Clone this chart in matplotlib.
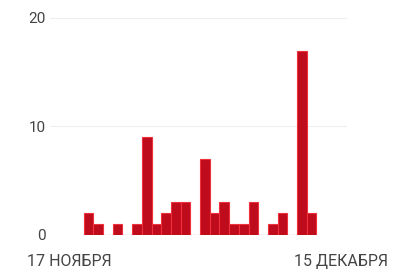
import pandas as pd
import matplotlib
matplotlib.use("Agg")
import matplotlib.pyplot as plt
import matplotlib.dates as mdates

# daily counts, 19 Nov .. 12 Dec
dates = pd.date_range("2020-11-19", "2020-12-12", freq="D")
counts = [2, 1, 0, 1, 0, 1, 9, 1, 2, 3, 3, 0, 7, 2, 3, 1, 1, 3, 0, 1, 2, 0, 17, 2]
tick_dates = pd.to_datetime(["2020-11-17", "2020-12-15"])
tick_labels = ["17 НОЯБРЯ", "15 ДЕКАБРЯ"]
y_ticks = [0, 10, 20]

plt.rcParams["font.family"] = ["Roboto", "DejaVu Sans"]

fig = plt.figure(figsize=(4.03, 2.70), dpi=100)
ax = fig.add_axes([50 / 403, 35 / 270, 297 / 403, 217 / 270])

x = mdates.date2num(dates)
ax.bar(x, counts, width=1.0, color="#be0c1c", edgecolor="#f0303a", linewidth=0.8, zorder=3)

start = mdates.date2num(dates[0])
ax.set_xlim(start - 3.97, start + 26.65)
ax.set_ylim(0, 20)

ax.set_xticks(mdates.date2num(tick_dates))
ax.set_xticklabels(tick_labels)
ax.set_yticks(y_ticks)
ax.tick_params(axis="x", length=0, pad=13.5, labelsize=11.5, labelcolor="#444444")
ax.tick_params(axis="y", length=0, pad=3, labelsize=11, labelcolor="#444444")

ax.grid(axis="y", color="#eeeeee", linewidth=0.8, zorder=0)
for s in ax.spines.values():
    s.set_visible(False)

fig.savefig("out.png", dpi=100)
